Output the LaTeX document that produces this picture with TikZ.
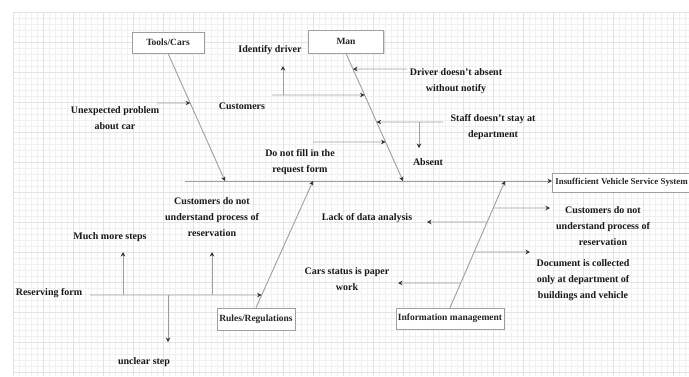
\documentclass[tikz,border=0pt]{standalone}
\usepackage{fontspec}
\setmainfont{Liberation Serif}
\usetikzlibrary{arrows.meta,shadows}
\begin{document}
\begin{tikzpicture}[x=1pt,y=-1pt,
  ln/.style={draw=gray!75, line width=0.9pt},
  tip/.style={-{Stealth[length=4.5pt,width=4.5pt,color=black!80]}},
  lbl/.style={font=\fontsize{10}{16}\selectfont\bfseries, text=black!90, align=center, inner sep=1pt},
  catbox/.style={draw=gray!75, line width=0.7pt, fill=white, font=\fontsize{9.5}{11}\selectfont\bfseries, text=black!85,
     inner sep=2pt, drop shadow={opacity=0.25, shadow xshift=1pt, shadow yshift=-1.2pt}}
]
\useasboundingbox (0,0) rectangle (689,376);
\fill[white] (0,0) rectangle (689,376);
% grid
\foreach \x in {13,19,...,689} \draw[gray!12, line width=0.4pt] (\x,12) -- (\x,376);
\foreach \y in {12,18,...,376} \draw[gray!12, line width=0.4pt] (13,\y) -- (689,\y);
\foreach \x in {13,43,...,689} \draw[gray!22, line width=0.4pt] (\x,12) -- (\x,376);
\foreach \y in {12,42,...,376} \draw[gray!22, line width=0.4pt] (13,\y) -- (689,\y);

% category boxes
\node[catbox, minimum width=72pt, minimum height=21pt] (tools) at (168,42.5) {Tools/Cars};
\node[catbox, minimum width=75pt, minimum height=23pt] (man) at (346,41.5) {Man};
\node[catbox, minimum width=78pt, minimum height=22pt] (rules) at (256,319) {Rules/Regulations};
\node[catbox, minimum width=106pt, minimum height=21pt] (info) at (450,318.5) {Information management};
\node[catbox, font=\fontsize{8.9}{11}\selectfont\bfseries, minimum height=19pt, anchor=west, inner xsep=3pt] (effect) at (552,182.5) {Insufficient Vehicle Service System};

% spine
\coordinate (spL) at (185,181);
\coordinate (tA) at (225,181);
\coordinate (mA) at (403,181);
\coordinate (rA) at (313,181);
\coordinate (iA) at (505,181);
\draw[ln,tip] (spL) -- (effect.west |- spL);

% diagonals
\draw[ln,tip] (tools.south) -- (tA);
\draw[ln,tip] (man.south) -- (mA);
\draw[ln,tip] (rules.north) -- (rA);
\draw[ln,tip] (info.north) -- (iA);

% Tools/Cars branch
\coordinate (u0) at (157,103);
\draw[ln,tip] (u0) -- (intersection of tools.south--tA and 0,103--10,103);
\node[lbl] (unexp) at (115,118) {Unexpected problem\\about car};

% Man branches
\coordinate (c0) at (272,95);
\coordinate (c1) at (283,95);
\coordinate (c2) at (283,66);
\draw[ln,tip] (c0) -- (intersection of man.south--mA and 0,95--10,95);
\draw[ln,tip] (c1) -- (c2);
\node[lbl] (ident) at (270,50) {Identify driver};
\node[lbl] (cust) at (242,106) {Customers};

\coordinate (d0) at (407,69);
\draw[ln,tip] (d0) -- (intersection of man.south--mA and 0,69--10,69);
\node[lbl] (driver) at (456,81) {Driver doesn't absent\\without notify};

\coordinate (s0) at (443,122);
\coordinate (s1) at (419,122);
\coordinate (s2) at (419,148);
\draw[ln,tip] (s0) -- (intersection of man.south--mA and 0,122--10,122);
\draw[ln,tip] (s1) -- (s2);
\node[lbl] (absent) at (428,162) {Absent};
\node[lbl] (staff) at (493,127) {Staff doesn't stay at\\department};

\coordinate (f0) at (313,142);
\draw[ln,tip] (f0) -- (intersection of man.south--mA and 0,142--10,142);
\node[lbl] (fill) at (300,162) {Do not fill in the\\request form};

% Rules branches
\coordinate (r0) at (90,295);
\draw[ln,tip] (r0) -- (intersection of rules.north--rA and 0,295--10,295);
\node[lbl] (resv) at (49,293) {Reserving form};
\coordinate (m0) at (123,295);
\coordinate (m1) at (123,252);
\draw[ln,tip] (m0) -- (m1);
\node[lbl] (much) at (110,237) {Much more steps};
\coordinate (k0) at (212,295);
\coordinate (k1) at (212,252);
\draw[ln,tip] (k0) -- (k1);
\node[lbl] (custL) at (212,217) {Customers do not\\understand process of\\reservation};
\coordinate (n0) at (168,295);
\coordinate (n1) at (168,342);
\draw[ln,tip] (n0) -- (n1);
\node[lbl] (unclear) at (144,362) {unclear step};

% Information management branches
\coordinate (i1) at (550,208);
\draw[ln,tip] (intersection of info.north--iA and 0,208--10,208) -- (i1);
\node[lbl] (custR) at (603,226) {Customers do not\\understand process of\\reservation};
\coordinate (i2) at (427,222);
\draw[ln,tip] (intersection of info.north--iA and 0,222--10,222) -- (i2);
\node[lbl] (lack) at (367,218) {Lack of data analysis};
\coordinate (i3) at (530,252);
\draw[ln,tip] (intersection of info.north--iA and 0,252--10,252) -- (i3);
\node[lbl] (doc) at (583,280) {Document is collected\\only at department of\\buildings and vehicle};
\coordinate (i4) at (398,283);
\draw[ln,tip] (intersection of info.north--iA and 0,283--10,283) -- (i4);
\node[lbl] (paper) at (347,279) {Cars status is paper\\work};
\end{tikzpicture}
\end{document}
